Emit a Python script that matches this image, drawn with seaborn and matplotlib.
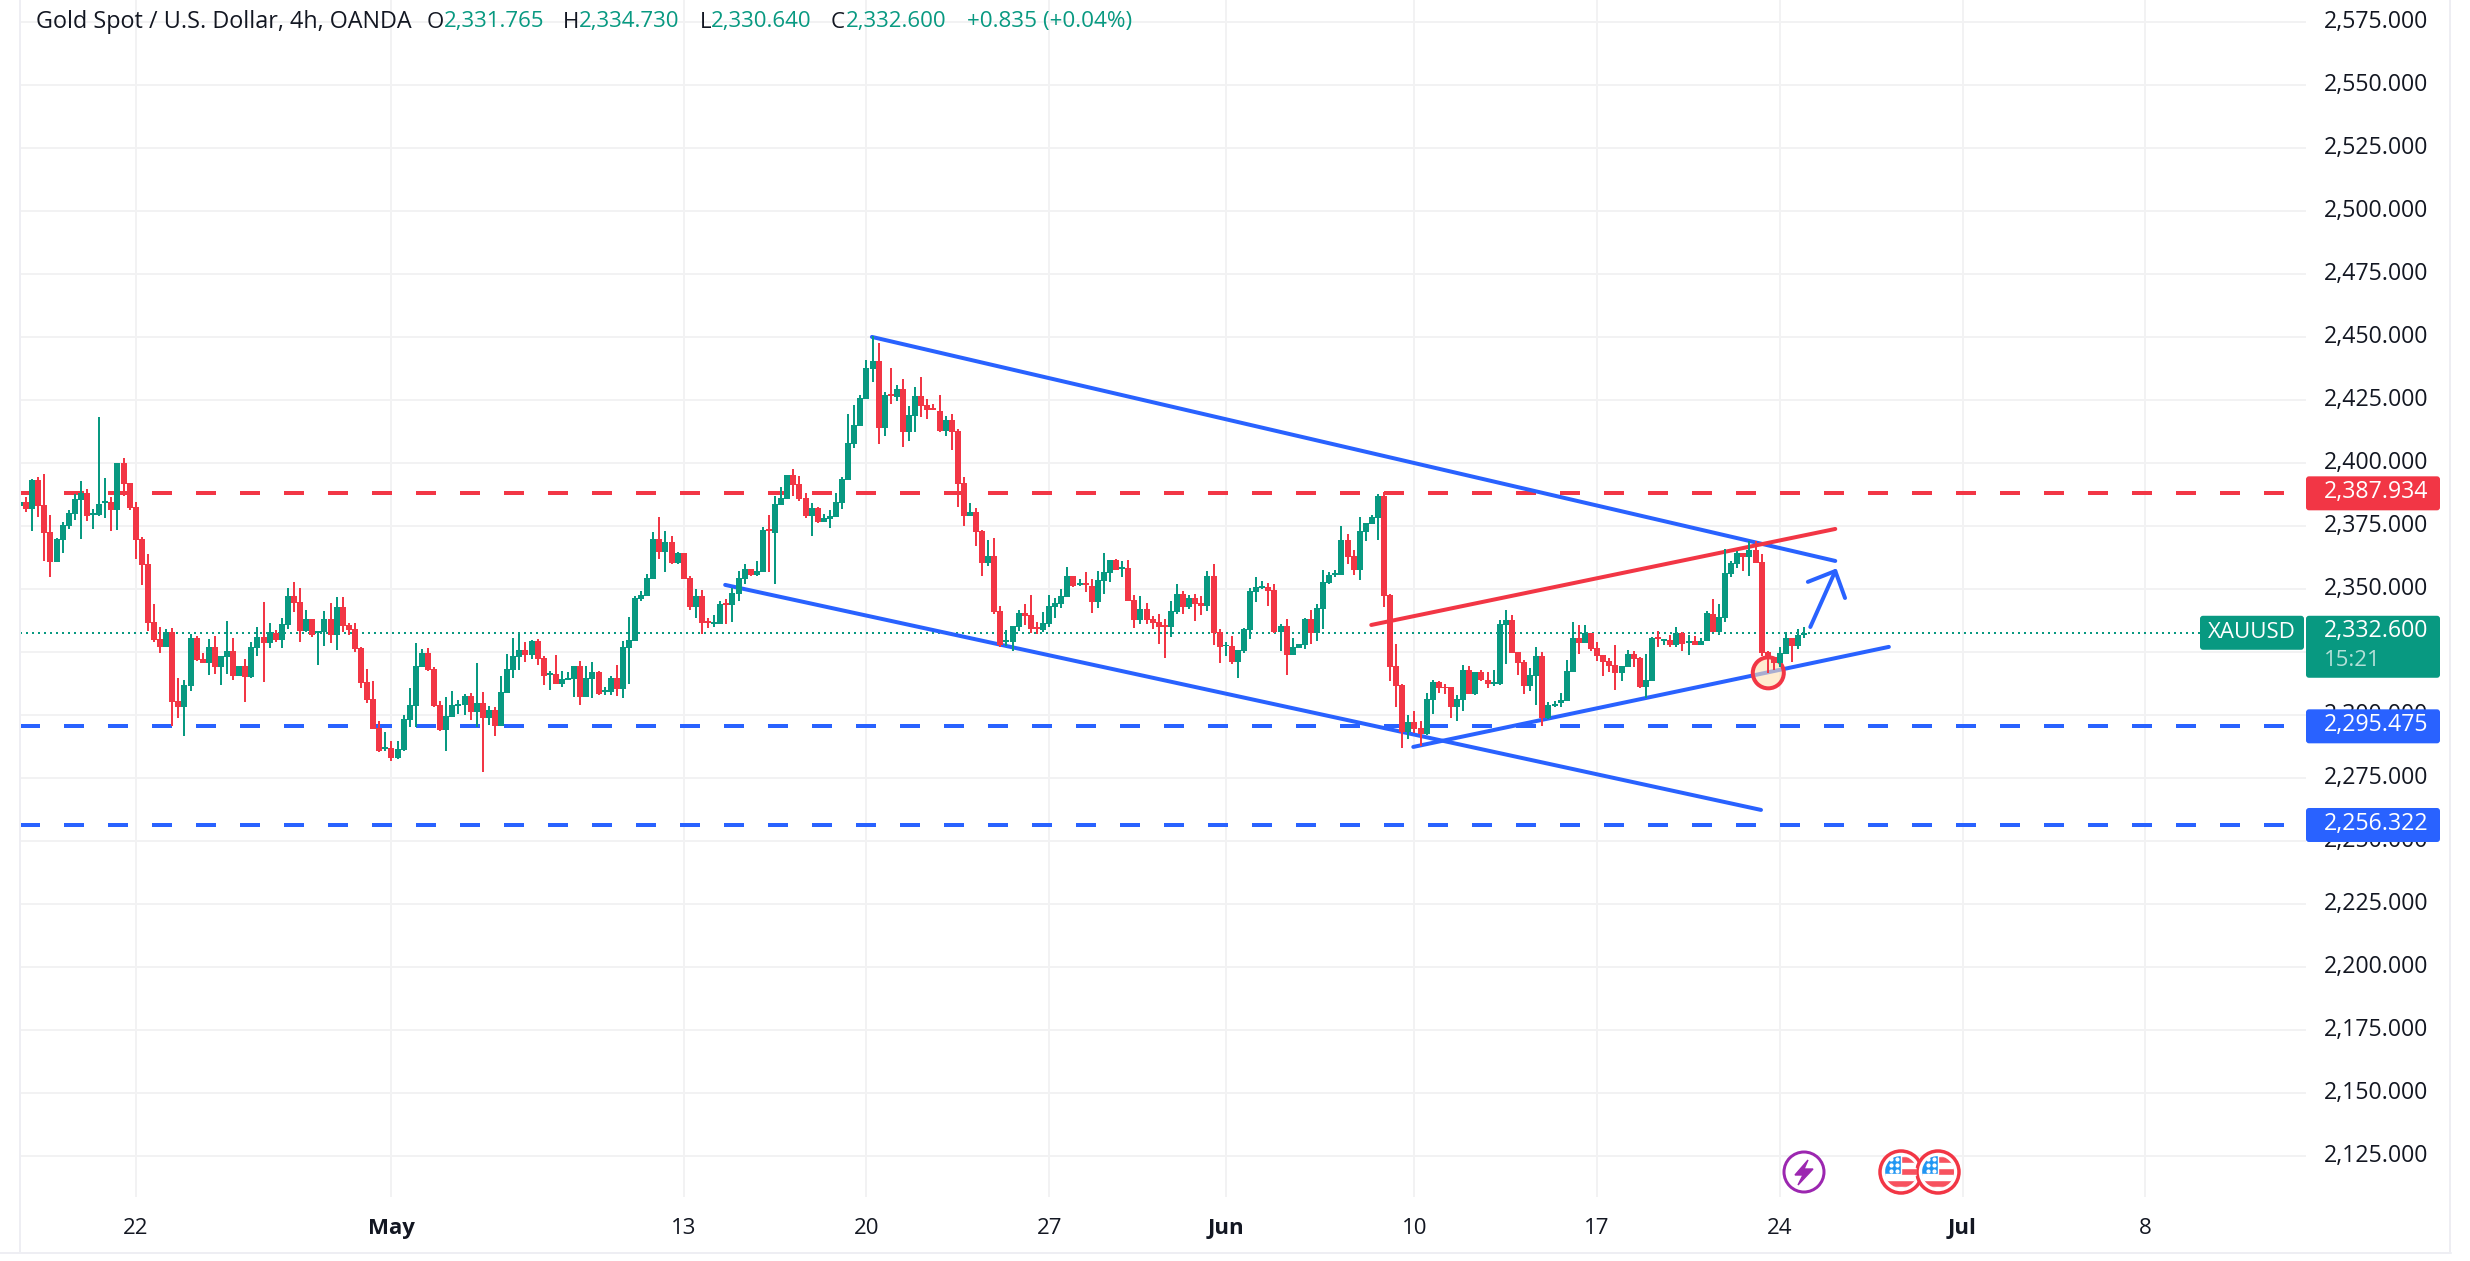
#!/usr/bin/env python3
"""Gold Spot / U.S. Dollar 4h candles with hand drawn trend lines."""

import numpy as np
import pandas as pd
import matplotlib
matplotlib.use('Agg')
import matplotlib.pyplot as plt
from matplotlib.patches import Circle, Ellipse, FancyBboxPatch, Rectangle
from matplotlib.transforms import ScaledTranslation
import seaborn as sns

opens = [
    2382.9,2384.5,2381.7,2393.3,2383.3,2372.6,2360.7,2369.4,2375,2379.8,
    2385.3,2388.1,2379.4,2379.4,2384.1,2384.5,2381.3,2400,2392.1,2382.5,
    2369.8,2359.9,2336.9,2330.2,2327,2332.9,2305.6,2303.2,2311.5,2330.6,
    2322.2,2320.6,2327,2319,2323,2325.4,2315.5,2319.4,2315.1,2326.6,
    2331,2328.6,2332.5,2329.8,2335.7,2347.2,2344.8,2333.3,2338.1,2332.5,
    2332.9,2338.1,2331.7,2342.9,2335.7,2334.1,2326.6,2313.1,2306.3,2294.8,
    2286.5,2286.9,2282.9,2286.1,2298,2303.6,2319,2324.6,2318.3,2304,
    2294,2299.2,2303.7,2304,2307.5,2301.2,2304.8,2298.8,2302,2295.6,
    2308.7,2317.9,2323,2325.8,2323.8,2329.4,2322.6,2315.9,2316.3,2312.3,
    2313.9,2314.3,2319.4,2307.1,2314.3,2317.1,2309.1,2309.1,2314.7,2310.3,
    2326.6,2329.4,2346,2347.2,2354,2369.8,2364.7,2368.7,2360.3,2364.3,
    2354.4,2342.9,2347.2,2337.3,2336.1,2336.1,2344.4,2343.7,2348,2354,
    2357.9,2355.6,2356.7,2373.8,2372.2,2383.3,2385.7,2395.2,2391.7,2386.1,
    2379,2382.1,2376.6,2377.8,2378.6,2384.1,2393.3,2407.5,2414.7,2425.4,
    2437.3,2440.5,2413.9,2427.4,2426.2,2429.4,2412.3,2418.7,2426.6,2423,
    2421.8,2420.6,2412.7,2417.1,2412.7,2392.1,2379,2380.6,2373,2360.3,
    2363.1,2341.3,2329,2329,2334.9,2340.5,2339.7,2334.9,2333.7,2336.1,
    2342.9,2344,2346.8,2355.2,2351.6,2352.4,2351.2,2344.8,2353.2,2356.3,
    2361.5,2357.9,2358.3,2345.6,2337.7,2342.1,2338.1,2336.9,2335.7,2334.9,
    2340.9,2348,2342.9,2346.4,2344.4,2343.3,2355.2,2332.9,2327.4,2327.4,
    2321,2325.4,2333.7,2348.8,2350.4,2350.8,2349.6,2332.9,2335.3,2323.8,
    2326.6,2327.8,2338.1,2332.5,2342.1,2352.4,2355.6,2355.6,2369.4,2363.1,
    2357.5,2372.6,2375.8,2378.2,2386.9,2347.6,2319.4,2311.9,2293.3,2297.2,
    2294.8,2292.3,2306,2313.1,2311.1,2311.1,2303.2,2306,2317.9,2308.3,
    2317.1,2313.9,2312.3,2312.3,2335.7,2337.7,2325,2321,2311.5,2315.5,
    2323.4,2298.8,2303.6,2304.8,2305.6,2317.1,2330.6,2328.6,2332.5,2326.6,
    2323.8,2321.4,2319.8,2316.7,2319,2324.2,2322.6,2311.1,2313.5,2331,
    2329.4,2329.8,2327.8,2332.5,2328.6,2329.4,2327.8,2329.4,2340.1,2332.9,
    2338.5,2356,2359.9,2364.3,2362.7,2365.5,2360.7,2325,2323,2320.5,
    2324.2,2330.6,2327.4,2331.765,
]
highs = [
    2384.5,2386.5,2393.7,2394.4,2395.6,2379.4,2370.2,2376.6,2381.3,2387.7,
    2392.9,2389.7,2381.7,2418.3,2394,2386.5,2400,2402,2392.1,2384.5,
    2370.6,2363.9,2344,2334.9,2334.1,2334.5,2314.7,2313.9,2332.1,2331.3,
    2324.6,2330.2,2331.3,2323.4,2337.3,2330.6,2319.4,2322.2,2329,2334.9,
    2344.8,2336.5,2333.7,2338.5,2350.4,2352.8,2350.4,2341.7,2338.1,2333.3,
    2341.3,2344.4,2346.8,2346.8,2336.5,2336.5,2327,2318.3,2313.5,2297.6,
    2293.3,2289.7,2289.7,2300,2310.7,2328.4,2326.2,2326.6,2319,2305.6,
    2307.1,2309.5,2306,2308.3,2308.7,2320.6,2309.1,2303.6,2303.2,2315.5,
    2324.2,2330.6,2332.9,2329,2329.8,2330.2,2323.4,2317.5,2323.8,2317.5,
    2317.1,2319.4,2321.4,2319.4,2321,2317.5,2311.1,2315.5,2319.8,2329.4,
    2338.9,2347.2,2349.2,2356,2372.6,2378.6,2373,2371,2364.7,2364.3,
    2355.2,2350,2349.6,2338.5,2339.7,2345.2,2346,2350.4,2357.1,2359.9,
    2357.9,2361.1,2374.6,2379.4,2386.9,2390.5,2395.2,2397.6,2394.8,2388.1,
    2384.1,2382.5,2379.8,2381.3,2388.1,2394.4,2419.4,2423,2427,2440.9,
    2450.4,2447.6,2428.2,2437.7,2431,2433.3,2422.6,2430.2,2434.1,2425.4,
    2423.4,2427,2418.7,2419.4,2413.5,2394.4,2384.1,2382.1,2373.4,2369.4,
    2370.2,2343.3,2333.7,2335.3,2341.7,2344,2347.6,2336.9,2340.9,2347.6,
    2346.4,2350,2358.7,2355.2,2354,2356.7,2354,2357.1,2364.3,2361.5,
    2361.9,2361.1,2361.5,2347.6,2347.2,2344.4,2339.3,2340.1,2338.1,2345.2,
    2352,2349.2,2347.6,2348,2347.2,2357.1,2359.9,2334.1,2329,2331.3,
    2325.8,2334.5,2350.4,2354.8,2353.2,2352.4,2352,2336.1,2338.1,2330.6,
    2328.2,2338.5,2341.7,2344,2357.5,2356.7,2357.5,2375,2371.8,2365.5,
    2378.6,2376.2,2379.4,2387.7,2388.5,2348,2328.2,2312.3,2300,2301.6,
    2297.6,2308.7,2313.9,2313.5,2312.3,2311.1,2307.9,2319.8,2319.4,2317.1,
    2317.9,2317.1,2317.9,2337.7,2341.7,2339.7,2325,2321.8,2318.7,2327,
    2325,2305.2,2305.6,2308.7,2321.8,2336.9,2335.7,2335.7,2332.5,2329,
    2323.8,2322.6,2327.8,2319.4,2325.8,2325.4,2323,2324.2,2331,2333.3,
    2330.2,2331.7,2334.9,2332.9,2331.7,2331.3,2330.6,2341.3,2346,2344,
    2365.9,2361.1,2365.1,2364.3,2369,2369,2363.9,2325.4,2323,2327,
    2332.9,2330.6,2334.1,2334.73,
]
lows = [
    2381.3,2380.6,2373,2378.6,2361.1,2354.8,2360.7,2364.3,2373.8,2377.4,
    2369.8,2377,2373.8,2379,2378.2,2373,2373.4,2386.9,2381.3,2361.9,
    2351.6,2333.3,2329,2324.6,2327,2295.6,2298.8,2291.7,2309.5,2321.4,
    2320.6,2315.9,2316.3,2311.9,2316.3,2313.9,2315.5,2305.2,2314.7,2323.4,
    2313.1,2326.6,2329,2326.6,2334.1,2340.9,2329,2332.9,2331,2319.8,
    2327.4,2328.6,2325.8,2332.9,2331.7,2325,2310.7,2304.8,2294.4,2285.3,
    2285.7,2281.7,2282.5,2285.7,2295.2,2295.2,2319,2317.5,2303.2,2293.7,
    2285.7,2299.2,2300.4,2300,2298,2295.2,2277.4,2296,2291.7,2295.6,
    2308.7,2314.7,2317.9,2321,2322.2,2319.8,2311.9,2309.9,2312.3,2311.1,
    2313.9,2307.1,2304,2307.1,2306.7,2307.9,2307.9,2307.9,2307.5,2306.7,
    2312.3,2329.4,2345.2,2347.2,2354,2361.9,2356.7,2359.9,2359.9,2354,
    2341.7,2338.5,2332.1,2334.5,2334.9,2336.1,2336.1,2336.9,2345.2,2352,
    2355.2,2355.2,2356.7,2356.7,2352,2383.3,2385.7,2386.9,2384.9,2378.2,
    2371,2376.2,2376.6,2374.2,2378.6,2381.7,2393.3,2406,2414.7,2425.4,
    2432.1,2407.5,2410.7,2423.4,2424.6,2406.3,2408.7,2412.3,2418.3,2417.5,
    2421,2412.3,2410.7,2405.2,2382.5,2375,2379,2367.1,2355.2,2359.1,
    2340.1,2327,2327.4,2325.4,2333.3,2335.7,2332.5,2332.1,2332.9,2334.9,
    2338.5,2342.5,2346.8,2350.8,2351.2,2348.8,2340.5,2342.5,2348,2352.8,
    2357.5,2354.8,2345.2,2334.5,2336.1,2336.1,2334.1,2328.2,2322.6,2331,
    2340.1,2340.1,2342.1,2337.3,2339.7,2341.3,2327.8,2320.6,2323.4,2320.2,
    2314.7,2324.6,2330.2,2344.8,2350,2343.3,2332.5,2325.4,2315.9,2323.8,
    2326.6,2326.2,2328.2,2329.4,2334.1,2352,2354.8,2355.6,2359.9,2355.6,
    2353.6,2369,2375.8,2369.4,2342.9,2313.5,2303.2,2286.9,2290.5,2292.9,
    2287.7,2292.1,2300.4,2308.7,2308.3,2298.8,2297.6,2301.6,2308.3,2307.9,
    2313.5,2310.7,2311.5,2311.9,2320.2,2324.6,2315.9,2308.3,2309.5,2304,
    2295.6,2298.4,2303.2,2303.2,2305.6,2317.1,2324.2,2328.6,2325.4,2321.4,
    2315.5,2317.1,2309.9,2313.5,2319,2319,2310.7,2306.7,2313.5,2327,
    2327.8,2327,2327,2325.4,2323.8,2327.8,2327.8,2329.4,2332.9,2331.7,
    2336.9,2354.8,2358.3,2357.1,2355.2,2360.3,2323.4,2316.7,2317.9,2319,
    2324.2,2321,2326.2,2330.64,
]
closes = [
    2384.5,2381.7,2393.3,2382.9,2372.2,2360.7,2369.8,2375.4,2380.2,2385.7,
    2388.1,2379,2380.2,2383.7,2384.9,2381.3,2400,2391.7,2382.1,2369.4,
    2359.5,2336.5,2329.8,2327,2332.9,2305.2,2303.2,2311.9,2330.6,2321.8,
    2320.6,2327,2319,2323.4,2325.4,2315.5,2319.4,2315.1,2327,2331,
    2328.6,2332.9,2329.8,2336.1,2347.2,2344.4,2333.3,2338.1,2331.7,2333.3,
    2338.1,2331.7,2342.9,2335.3,2333.7,2326.2,2312.7,2306,2294.4,2285.7,
    2287.3,2282.9,2286.5,2298.4,2304,2319.4,2324.6,2317.9,2303.6,2294,
    2299.6,2304,2304.4,2307.5,2301.2,2304.8,2298.8,2302,2295.6,2309.1,
    2318.3,2323.4,2325.8,2323.8,2329.4,2322.2,2315.5,2316.7,2312.3,2314.3,
    2314.7,2319.4,2307.1,2314.7,2317.1,2308.3,2309.9,2314.7,2310.3,2327,
    2329.8,2346.4,2347.6,2354.4,2369.8,2364.7,2368.7,2360.3,2364.3,2354,
    2342.9,2347.2,2336.5,2336.5,2336.9,2344,2343.7,2348.4,2354.4,2357.9,
    2355.6,2357.1,2373.4,2373,2383.7,2386.1,2395.2,2391.3,2385.7,2379,
    2382.1,2376.6,2378.2,2379,2384.5,2393.7,2407.9,2415.1,2425.8,2437.7,
    2440.5,2413.9,2427,2426.6,2429.4,2412.3,2419,2426.6,2422.6,2421,
    2421,2412.7,2417.1,2412.3,2391.7,2379,2380.6,2372.6,2360.3,2363.1,
    2340.9,2327.8,2329.8,2335.3,2340.5,2339.3,2334.1,2334.1,2336.5,2343.3,
    2344.4,2347.2,2355.2,2351.2,2352.4,2351.6,2344.8,2353.6,2356.7,2361.5,
    2357.5,2358.7,2345.2,2337.7,2342.1,2337.7,2336.5,2334.9,2334.9,2341.3,
    2348,2342.9,2346.4,2344,2343.3,2355.2,2332.5,2327,2327.8,2321,
    2325.8,2334.1,2349.2,2350.8,2351.2,2349.2,2332.9,2335.3,2323.8,2327,
    2328.2,2338.1,2332.5,2342.5,2352.8,2355.6,2356.3,2369.4,2362.7,2357.5,
    2373,2376.2,2378.6,2386.9,2347.2,2319,2311.5,2293.3,2297.2,2294.4,
    2292.3,2306.3,2313.1,2310.7,2310.7,2303.2,2306.3,2317.9,2308.3,2317.1,
    2313.9,2312.3,2313.1,2336.1,2337.7,2324.6,2320.6,2311.5,2315.9,2323.4,
    2298.8,2304,2304.4,2306,2317.5,2330.6,2328.6,2332.5,2326.2,2323.4,
    2321,2319.4,2316.7,2319.4,2324.2,2322.2,2311.1,2313.9,2330.6,2330.2,
    2330.2,2327.8,2332.5,2328.2,2329.4,2327.8,2329.4,2340.5,2332.9,2338.9,
    2356.3,2360.3,2364.3,2362.7,2365.5,2360.3,2324.6,2323,2320.5,2324.6,
    2330.6,2327.4,2331.7,2332.6,
]

date_bars = [19, 61, 109, 139, 169, 198, 229, 259, 289, 319, 349]
date_labels = ['22', 'May', '13', '20', '27', 'Jun', '10', '17', '24', 'Jul', '8']
month_labels = ['May', 'Jun', 'Jul']

price_ticks = list(range(2125, 2600, 25))

resistance = 2387.934
supports = [2295.475, 2256.322]
last_price = 2332.6

# trend lines as (bar, price) at both ends
channel_top = ([139.9, 298.1], [2450, 2361.1])
channel_low = ([115.8, 285.9], [2351.6, 2262.3])
wedge_top = ([221.9, 298.1], [2335.7, 2373.8])
wedge_low = ([228.8, 306.9], [2287.3, 2327])
arrow_shaft = ([294, 298.1], [2334.9, 2357.1])
arrow_head = ([293.6, 298.1, 299.7], [2352.8, 2357.1, 2346.4])
touch_point = (287.1, 2316.7)

GREEN = '#089981'
RED = '#f23645'
BLUE = '#2962ff'
GRID = '#f2f2f3'
BORDER = '#eeeef3'
TEXT = '#131722'
FONT = 'Open Sans'
FS = 16
FS_PRICE = 16.7

sns.set_theme(style='white')
plt.rcParams['font.family'] = [FONT, 'DejaVu Sans']

fig = plt.figure(figsize=(24.7, 12.61), dpi=100)
ax = fig.add_axes([20 / 2470, 1 - 1197 / 1261, 2286 / 2470, 1197 / 1261])
PX = 0.72  # points per pixel

# candles: one vertical line per bar for the wick and one for the body
bars = np.arange(len(opens))
side = np.where(np.array(closes) >= np.array(opens), 'up', 'down')
frame = pd.DataFrame({'bar': bars, 'side': side, 'open': opens, 'high': highs,
                      'low': lows, 'close': closes})
wicks = frame.melt(id_vars=['bar', 'side'], value_vars=['low', 'high'], value_name='price')
bodies = frame.melt(id_vars=['bar', 'side'], value_vars=['open', 'close'], value_name='price')
palette = {'up': GREEN, 'down': RED}
sns.lineplot(data=wicks, x='bar', y='price', units='bar', estimator=None, hue='side',
             palette=palette, legend=False, linewidth=2 * PX, sort=False,
             solid_capstyle='butt', zorder=5, ax=ax)
sns.lineplot(data=bodies, x='bar', y='price', units='bar', estimator=None, hue='side',
             palette=palette, legend=False, linewidth=6 * PX, sort=False,
             solid_capstyle='butt', zorder=5, ax=ax)

ax.set_xlim(0, 375.4)
ax.set_ylim(2108.7, 2583.7)
ax.set_xlabel('')
ax.set_ylabel('')

for level in price_ticks:
    ax.axhline(level, color=GRID, lw=2 * PX, zorder=0)
for bar in date_bars:
    ax.axvline(bar, color=GRID, lw=2 * PX, zorder=0)

# levels
dash = (0, (5, 6))
ax.axhline(resistance, color=RED, lw=4 * PX, ls=dash, zorder=2)
for level in supports:
    ax.axhline(level, color=BLUE, lw=4 * PX, ls=dash, zorder=2)
ax.plot([0, 358], [last_price, last_price], color=GREEN, lw=2 * PX, ls=(0, (1, 2)), zorder=1)

# drawings
for xs, ys, colour in [(*channel_top, BLUE), (*channel_low, BLUE), (*wedge_top, RED),
                       (*wedge_low, BLUE), (*arrow_shaft, BLUE), (*arrow_head, BLUE)]:
    ax.plot(xs, ys, color=colour, lw=4 * PX, solid_capstyle='round', zorder=3)
ax.add_patch(Ellipse(touch_point, 31 / 6.089, 31 / 2.52, facecolor='#ffe0b2', alpha=0.6,
                     edgecolor='none', zorder=3.5))
ax.add_patch(Ellipse(touch_point, 31 / 6.089, 31 / 2.52, facecolor='none', edgecolor=RED,
                     lw=4 * PX, zorder=3.6))

# axes and labels
for spine in ax.spines.values():
    spine.set_visible(False)
ax.yaxis.tick_right()
ax.set_yticks(price_ticks, [f'{v:,.3f}' for v in price_ticks])
ax.set_xticks(date_bars, date_labels)
ax.tick_params(axis='y', length=0, pad=13, labelsize=FS_PRICE, labelcolor=TEXT)
ax.tick_params(axis='x', length=0, pad=15, labelsize=FS, labelcolor=TEXT)
lift = ScaledTranslation(0, 3 / 100, fig.dpi_scale_trans)
for label in ax.get_yticklabels():
    label.set_transform(label.get_transform() + lift)
for label in ax.get_xticklabels():
    if label.get_text() in month_labels:
        label.set_fontweight('bold')

# overlay in pixel units for the price tags, borders, header and event icons
ov = fig.add_axes([0, 0, 1, 1], facecolor='none')
ov.set_xlim(0, 2470)
ov.set_ylim(1261, 0)
ov.axis('off')


def to_y(price):
    return 1261 - ax.transData.transform((0, price))[1]


def tag(x0, x1, y0, y1, colour):
    ov.add_patch(FancyBboxPatch((x0 + 2, y0 + 2), x1 - x0 - 4, y1 - y0 - 4,
                                boxstyle='round,pad=2,rounding_size=3',
                                facecolor=colour, edgecolor='none', zorder=5))


for price, colour in [(resistance, RED), (supports[0], BLUE), (supports[1], BLUE)]:
    yc = to_y(price)
    tag(2306, 2440, yc - 17, yc + 17, colour)
    ov.text(2324, yc - 1, f'{price:,.3f}', color='white', fontsize=FS_PRICE, va='center', zorder=6)

yc = to_y(last_price)
tag(2200, 2304, yc - 17, yc + 17, GREEN)
ov.text(2252, yc, 'XAUUSD', color='white', fontsize=FS, va='center', ha='center', zorder=6)
tag(2306, 2440, yc - 17, yc + 45, GREEN)
ov.text(2324, yc - 2, f'{last_price:,.3f}', color='white', fontsize=FS_PRICE, va='center', zorder=6)
ov.text(2324, yc + 28, '15:21', color='#b3e0d8', fontsize=FS, va='center', zorder=6)

ov.plot([20, 20], [0, 1253], color=BORDER, lw=2 * PX)
ov.plot([2450, 2450], [0, 1253], color=BORDER, lw=2 * PX)
ov.plot([0, 2451], [1253, 1253], color=BORDER, lw=2 * PX)

header = [(36, 'Gold Spot / U.S. Dollar, 4h, OANDA', TEXT, 16.8), (427, 'O', TEXT, FS),
          (444, '2,331.765', GREEN, FS), (563, 'H', TEXT, FS), (579, '2,334.730', GREEN, FS),
          (700, 'L', TEXT, FS), (711, '2,330.640', GREEN, FS), (831, 'C', TEXT, FS),
          (846, '2,332.600', GREEN, FS), (967, '+0.835 (+0.04%)', GREEN, 16.2)]
for x, text, colour, size in header:
    ov.text(x, 22, text, color=colour, fontsize=size, va='center', zorder=6)

# event icons
ov.add_patch(Circle((1804, 1172), 20, facecolor='white', edgecolor='#9c27b0', lw=3 * PX, zorder=6))
ov.fill([1808, 1795, 1803, 1798, 1813, 1804], [1160, 1175, 1175, 1185, 1169, 1169],
        color='#9c27b0', zorder=7)
for cx in [1901, 1938]:
    ov.add_patch(Circle((cx, 1172), 21, facecolor='white', edgecolor=RED, lw=3.5 * PX, zorder=6))
    clip = Circle((cx, 1172), 16, transform=ov.transData)
    for y0 in [1156, 1168, 1180]:
        stripe = Rectangle((cx - 17, y0), 34, 7, facecolor='#f7525f', zorder=7)
        ov.add_patch(stripe)
        stripe.set_clip_path(clip)
    canton = Rectangle((cx - 17, 1155), 17, 19, facecolor='#2196f3', zorder=8)
    ov.add_patch(canton)
    canton.set_clip_path(clip)
    ov.scatter([cx - 10, cx - 4, cx - 10, cx - 4, cx - 10, cx - 4],
               [1159, 1159, 1165, 1165, 1171, 1171], s=4, color='white', zorder=9)

fig.savefig('out.png', dpi=100)
